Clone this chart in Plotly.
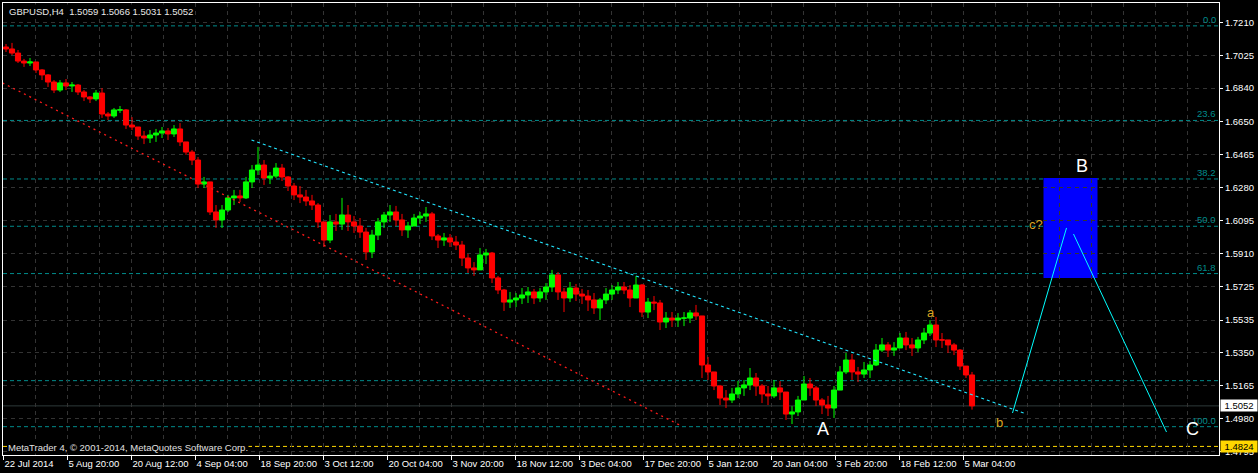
import plotly.graph_objects as go

# ---------------- data ----------------
symbol_title = "GBPUSD,H4  1.5059 1.5066 1.5031 1.5052"
copyright_text = "MetaTrader 4, © 2001-2014, MetaQuotes Software Corp."

bars_per_day = 6          # H4 bars in one trading day (one drawn candle = one day)
first_open = 1.7071

high = [1.7088, 1.7094, 1.7054, 1.7004, 1.7009, 1.6987, 1.6947, 1.6919, 1.6885, 1.6885,
        1.6891, 1.6874, 1.6863, 1.6829, 1.6795, 1.6829, 1.6840, 1.6705, 1.6728, 1.6739,
        1.6722, 1.6677, 1.6621, 1.6599, 1.6604, 1.6610, 1.6621, 1.6615, 1.6632, 1.6643,
        1.6537, 1.6492, 1.6452, 1.6340, 1.6250, 1.6182, 1.6182, 1.6239, 1.6267, 1.6267,
        1.6340, 1.6407, 1.6509, 1.6435, 1.6368, 1.6418, 1.6413, 1.6345, 1.6306, 1.6289,
        1.6267, 1.6239, 1.6193, 1.6070, 1.6126, 1.6132, 1.6222, 1.6182, 1.6120, 1.6109,
        1.6053, 1.6042, 1.6109, 1.6143, 1.6182, 1.6177, 1.6132, 1.6087, 1.6132, 1.6143,
        1.6171, 1.6143, 1.6019, 1.6025, 1.6019, 1.6008, 1.5980, 1.5907, 1.5861, 1.5940,
        1.5935, 1.5918, 1.5783, 1.5710, 1.5693, 1.5687, 1.5715, 1.5721, 1.5710, 1.5715,
        1.5743, 1.5817, 1.5805, 1.5715, 1.5749, 1.5738, 1.5710, 1.5704, 1.5687, 1.5659,
        1.5715, 1.5732, 1.5749, 1.5749, 1.5732, 1.5783, 1.5738, 1.5659, 1.5670, 1.5648,
        1.5580, 1.5580, 1.5574, 1.5580, 1.5591, 1.5620, 1.5558, 1.5327, 1.5243, 1.5170,
        1.5141, 1.5153, 1.5192, 1.5198, 1.5265, 1.5237, 1.5175, 1.5164, 1.5198, 1.5192,
        1.5130, 1.5051, 1.5108, 1.5220, 1.5209, 1.5164, 1.5096, 1.5108, 1.5164, 1.5276,
        1.5350, 1.5344, 1.5271, 1.5299, 1.5305, 1.5400, 1.5434, 1.5411, 1.5411, 1.5462,
        1.5468, 1.5434, 1.5440, 1.5490, 1.5535, 1.5552, 1.5462, 1.5423, 1.5406, 1.5372,
        1.5276, 1.5243]

low = [1.7043, 1.7026, 1.6981, 1.6959, 1.6964, 1.6925, 1.6885, 1.6846, 1.6812, 1.6818,
       1.6829, 1.6818, 1.6801, 1.6767, 1.6756, 1.6767, 1.6672, 1.6660, 1.6672, 1.6700,
       1.6610, 1.6604, 1.6548, 1.6525, 1.6531, 1.6537, 1.6559, 1.6548, 1.6565, 1.6514,
       1.6464, 1.6407, 1.6278, 1.6278, 1.6126, 1.6053, 1.6053, 1.6143, 1.6182, 1.6199,
       1.6216, 1.6278, 1.6351, 1.6295, 1.6300, 1.6334, 1.6317, 1.6261, 1.6210, 1.6193,
       1.6177, 1.6154, 1.6053, 1.5946, 1.5968, 1.6036, 1.6042, 1.6036, 1.6025, 1.5997,
       1.5873, 1.5884, 1.5985, 1.6053, 1.6087, 1.6064, 1.6008, 1.5997, 1.6064, 1.6075,
       1.6087, 1.5985, 1.5940, 1.5952, 1.5946, 1.5929, 1.5839, 1.5800, 1.5783, 1.5817,
       1.5850, 1.5743, 1.5681, 1.5586, 1.5603, 1.5608, 1.5625, 1.5631, 1.5625, 1.5636,
       1.5648, 1.5693, 1.5648, 1.5580, 1.5636, 1.5642, 1.5625, 1.5586, 1.5569, 1.5535,
       1.5625, 1.5648, 1.5681, 1.5681, 1.5608, 1.5659, 1.5552, 1.5546, 1.5591, 1.5479,
       1.5490, 1.5496, 1.5496, 1.5501, 1.5518, 1.5535, 1.5209, 1.5198, 1.5141, 1.5057,
       1.5040, 1.5068, 1.5096, 1.5108, 1.5141, 1.5108, 1.5068, 1.5057, 1.5096, 1.5085,
       1.4973, 1.4950, 1.4995, 1.5096, 1.5108, 1.5051, 1.5006, 1.4995, 1.4984, 1.5141,
       1.5231, 1.5198, 1.5186, 1.5209, 1.5209, 1.5276, 1.5355, 1.5327, 1.5333, 1.5378,
       1.5366, 1.5333, 1.5355, 1.5400, 1.5445, 1.5383, 1.5378, 1.5350, 1.5338, 1.5254,
       1.5209, 1.5031]

close = [1.7060, 1.7037, 1.6992, 1.6981, 1.6987, 1.6942, 1.6914, 1.6874, 1.6829, 1.6869,
         1.6852, 1.6857, 1.6818, 1.6790, 1.6779, 1.6812, 1.6694, 1.6683, 1.6717, 1.6717,
         1.6632, 1.6621, 1.6570, 1.6559, 1.6576, 1.6587, 1.6599, 1.6582, 1.6610, 1.6537,
         1.6480, 1.6435, 1.6300, 1.6312, 1.6143, 1.6098, 1.6154, 1.6222, 1.6233, 1.6222,
         1.6312, 1.6379, 1.6407, 1.6334, 1.6345, 1.6390, 1.6340, 1.6289, 1.6239, 1.6227,
         1.6205, 1.6182, 1.6087, 1.5985, 1.6087, 1.6075, 1.6126, 1.6087, 1.6064, 1.6030,
         1.5918, 1.6013, 1.6087, 1.6126, 1.6143, 1.6098, 1.6042, 1.6064, 1.6109, 1.6120,
         1.6132, 1.6008, 1.5985, 1.5997, 1.5974, 1.5957, 1.5884, 1.5828, 1.5817, 1.5901,
         1.5912, 1.5772, 1.5704, 1.5636, 1.5648, 1.5659, 1.5676, 1.5693, 1.5659, 1.5693,
         1.5721, 1.5789, 1.5693, 1.5659, 1.5715, 1.5681, 1.5670, 1.5648, 1.5603, 1.5648,
         1.5681, 1.5704, 1.5721, 1.5704, 1.5659, 1.5732, 1.5580, 1.5636, 1.5631, 1.5524,
         1.5546, 1.5535, 1.5546, 1.5546, 1.5575, 1.5558, 1.5282, 1.5243, 1.5164, 1.5096,
         1.5085, 1.5119, 1.5153, 1.5170, 1.5209, 1.5164, 1.5119, 1.5108, 1.5153, 1.5130,
         1.5006, 1.5018, 1.5085, 1.5175, 1.5153, 1.5085, 1.5057, 1.5040, 1.5141, 1.5243,
         1.5310, 1.5243, 1.5231, 1.5254, 1.5282, 1.5366, 1.5395, 1.5366, 1.5378, 1.5434,
         1.5395, 1.5378, 1.5423, 1.5462, 1.5507, 1.5423, 1.5423, 1.5395, 1.5366, 1.5276,
         1.5226, 1.5052]

x_tick_step = 64   # H4 bars between date labels
x_tick_text = ["22 Jul 2014", "5 Aug 20:00", "20 Aug 12:00", "4 Sep 04:00", "18 Sep 20:00",
               "3 Oct 12:00", "20 Oct 04:00", "3 Nov 20:00", "18 Nov 12:00", "3 Dec 04:00",
               "17 Dec 20:00", "5 Jan 12:00", "20 Jan 04:00", "3 Feb 20:00", "18 Feb 12:00",
               "5 Mar 04:00"]
y_tick_vals = [1.7210, 1.7025, 1.6840, 1.6650, 1.6465, 1.6280, 1.6095, 1.5910,
               1.5725, 1.5535, 1.5350, 1.5165, 1.4980, 1.4795]

# Fibonacci retracement (0 = high, 100 = low)
fib_high = 1.7190
fib_low = 1.4935
fib_levels = [0.0, 23.6, 38.2, 50.0, 61.8, 100.0]
extra_level = 1.5194          # unlabeled horizontal line
bid_price = 1.5052
alert_price = 1.4824

# trend channel lines: (bar index, price)
lower_channel = [(-1, 1.6869), (678, 1.4939)]
upper_channel = [(248, 1.6548), (1023, 1.5006)]
# projected wave lines
wave_up = [(1009, 1.5012), (1063, 1.6053)]
wave_down = [(1070, 1.6019), (1163, 1.4905)]
# target zone box
zone_bars = (1040, 1094)
zone_prices = (1.5772, 1.6334)

# wave labels: (text, bar index, price, size, colour)
wave_labels = [("A", 819, 1.4922, 18, "white"),
               ("B", 1078, 1.6402, 18, "white"),
               ("C", 1189, 1.4922, 18, "white"),
               ("a", 927, 1.5580, 13, "#DAA520"),
               ("b", 996, 1.4956, 13, "#DAA520"),
               ("c?", 1032, 1.6070, 13, "#DAA520")]

# ---------------- figure ----------------
FONT = "Liberation Sans, Arial, sans-serif"
FS = 9.5
n = len(close)
xs = [bars_per_day * d + 2.5 for d in range(n)]
opens = [first_open] + close[:-1]

fig = go.Figure()
fig.add_trace(go.Candlestick(
    x=xs, open=opens, high=high, low=low, close=close,
    increasing=dict(line=dict(color="#00FF00", width=1), fillcolor="#00FF00"),
    decreasing=dict(line=dict(color="#FF0000", width=1), fillcolor="#FF0000"),
    whiskerwidth=0, hoverinfo="skip", showlegend=False))

shapes = []
teal = "#008B8B"
for lv in fib_levels:
    p = fib_high - lv / 100.0 * (fib_high - fib_low)
    shapes.append(dict(type="line", xref="paper", x0=0, x1=1, yref="y", y0=p, y1=p,
                       line=dict(color=teal, width=1, dash="4px,3px"), layer="between"))
shapes.append(dict(type="line", xref="paper", x0=0, x1=1, yref="y", y0=extra_level, y1=extra_level,
                   line=dict(color=teal, width=1, dash="4px,3px"), layer="between"))
shapes.append(dict(type="line", xref="paper", x0=0, x1=1, yref="y", y0=bid_price, y1=bid_price,
                   line=dict(color="#2E3A3A", width=1), layer="between"))
shapes.append(dict(type="line", xref="paper", x0=0, x1=1, yref="y", y0=alert_price, y1=alert_price,
                   line=dict(color="#FFD700", width=1, dash="4px,3px"), layer="between"))
shapes.append(dict(type="rect", xref="x", yref="y", x0=zone_bars[0], x1=zone_bars[1],
                   y0=zone_prices[0], y1=zone_prices[1], fillcolor="#0000FF",
                   line=dict(width=0), layer="below"))
for seg, col, dash, w in [(lower_channel, "#FF1A1A", "2px,4px", 1.3),
                          (upper_channel, "#22E5FF", "3px,3px", 1.2),
                          (wave_up, "#00FFFF", "solid", 1),
                          (wave_down, "#00FFFF", "solid", 1)]:
    shapes.append(dict(type="line", xref="x", yref="y", x0=seg[0][0], y0=seg[0][1],
                       x1=seg[1][0], y1=seg[1][1], line=dict(color=col, width=w, dash=dash),
                       layer="above"))

ann = []
for lv in fib_levels:
    p = fib_high - lv / 100.0 * (fib_high - fib_low)
    ann.append(dict(text=f"{lv:.1f}", xref="paper", x=1, xanchor="right", xshift=-2,
                    yref="y", y=p, yanchor="bottom", showarrow=False,
                    font=dict(family=FONT, size=FS, color=teal), borderpad=0))
for t, b, p, s, c in wave_labels:
    ann.append(dict(text=t, xref="x", x=b, yref="y", y=p, showarrow=False,
                    font=dict(family=FONT, size=s, color=c)))
ann.append(dict(text=symbol_title, xref="paper", x=0, xanchor="left", xshift=4,
                yref="paper", y=1, yanchor="top", yshift=-1, showarrow=False,
                bgcolor="black", font=dict(family=FONT, size=FS, color="#E8E8E8")))
ann.append(dict(text=copyright_text, xref="paper", x=0, xanchor="left", xshift=4,
                yref="paper", y=0, yanchor="bottom", yshift=1, showarrow=False,
                bgcolor="black", font=dict(family=FONT, size=FS, color="#E0E0E0"), borderpad=0))
ann.append(dict(text=f"{bid_price:.4f}", xref="paper", x=1, xanchor="left", xshift=1,
                yref="y", y=bid_price, yanchor="middle", showarrow=False, width=36,
                bgcolor="white", borderpad=0, font=dict(family=FONT, size=FS, color="black")))
ann.append(dict(text=f"{alert_price:.4f}", xref="paper", x=1, xanchor="left", xshift=1,
                yref="y", y=alert_price, yanchor="middle", showarrow=False, width=36,
                bgcolor="#FFD700", borderpad=0, font=dict(family=FONT, size=FS, color="black")))

grid = "#333333"
major_x = [k * x_tick_step for k in range(len(x_tick_text))]
minor_x = [k * 32 for k in range(1, 38) if (k * 32) not in major_x]

fig.update_layout(
    width=1258, height=473,
    margin=dict(l=3, r=39, t=3, b=18),
    paper_bgcolor="black", plot_bgcolor="black",
    hovermode=False, boxgap=0.15, boxgroupgap=0,
    shapes=shapes, annotations=ann,
    font=dict(family=FONT, size=FS, color="white"),
    xaxis=dict(range=[-0.5, 1215.5], rangeslider=dict(visible=False),
               tickmode="array", tickvals=major_x, ticktext=x_tick_text,
               ticks="outside", ticklen=4, tickcolor="white", ticklabelposition="outside right",
               tickfont=dict(family=FONT, size=FS, color="white"),
               showgrid=True, gridcolor=grid, griddash="4px,4px", gridwidth=1,
               minor=dict(tickmode="array", tickvals=minor_x, showgrid=True, gridcolor=grid,
                          griddash="4px,4px", ticklen=0),
               showline=True, linecolor="white", linewidth=1, mirror=True, zeroline=False),
    yaxis=dict(range=[1.47757, 1.73186], side="right", tickmode="array",
               tickvals=y_tick_vals, ticktext=[f"{v:.4f}" for v in y_tick_vals],
               ticks="outside", ticklen=3, tickcolor="white",
               tickfont=dict(family=FONT, size=FS, color="white"),
               showgrid=True, gridcolor=grid, griddash="4px,4px", gridwidth=1,
               showline=True, linecolor="white", linewidth=1, mirror=True, zeroline=False),
)

fig.write_html("out.html", config={"displayModeBar": False},
               post_script="document.body.style.margin='0';document.body.style.background='black';document.body.style.overflow='hidden';")
